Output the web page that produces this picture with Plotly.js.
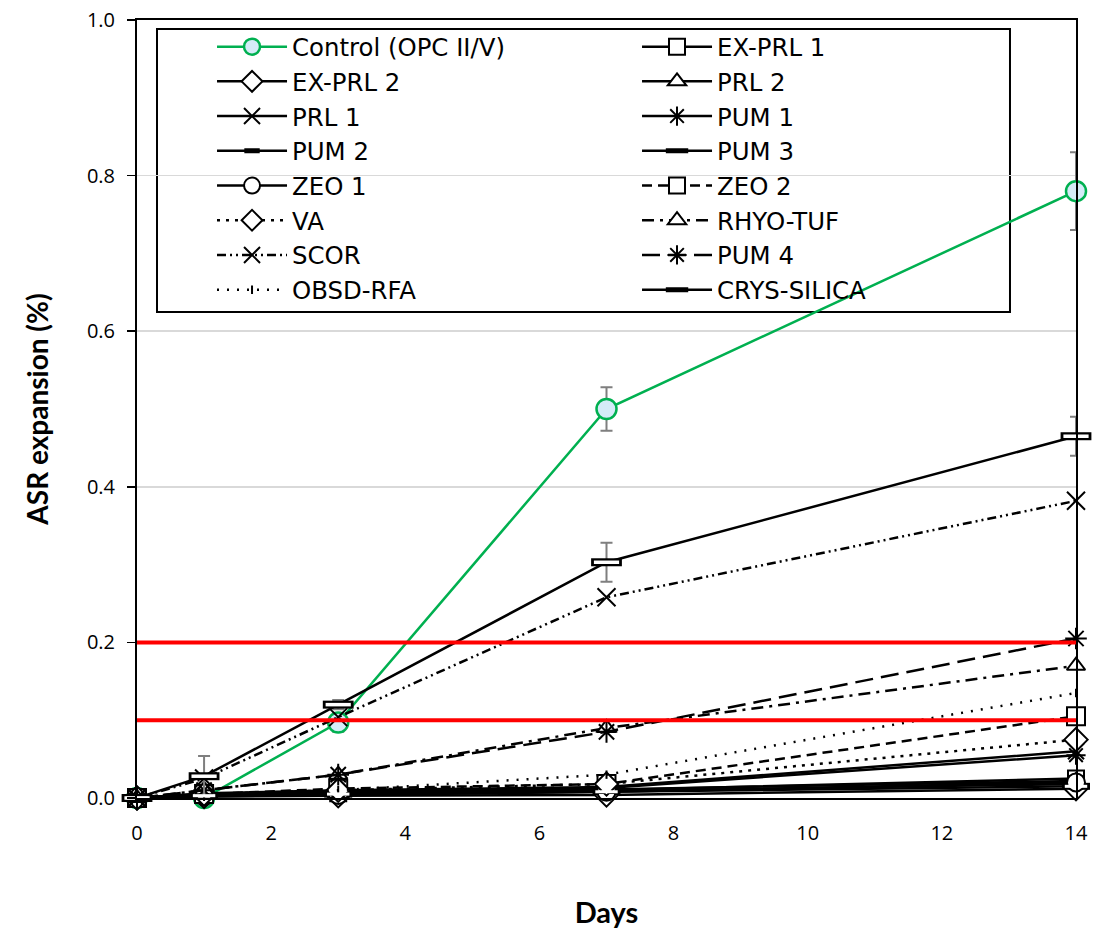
<!DOCTYPE html>
<html>
<head>
<meta charset="utf-8">
<script src="https://cdn.plot.ly/plotly-3.0.1.min.js"></script>
<style>html,body{margin:0;padding:0;background:#fff;}#chart{width:1093px;height:932px;}</style>
</head>
<body>
<div id="chart"></div>
<script>
// ---- data ----
const days = [0, 1, 3, 7, 14];
const xTicks = [0, 2, 4, 6, 8, 10, 12, 14];
const yTicks = [0, 0.2, 0.4, 0.6, 0.8, 1.0];
const yTickLabels = ["0.0", "0.2", "0.4", "0.6", "0.8", "1.0"];
const limits = [0.1, 0.2];

const seriesNames = ["Control (OPC II/V)", "EX-PRL 1", "EX-PRL 2", "PRL 2", "PRL 1", "PUM 1",
  "PUM 2", "PUM 3", "ZEO 1", "ZEO 2", "VA", "RHYO-TUF", "SCOR", "PUM 4", "OBSD-RFA", "CRYS-SILICA"];

const control    = [0, 0, 0.097, 0.50, 0.78];
const exPrl1     = [0, 0.004, 0.006, 0.010, 0.025];
const exPrl2     = [0, 0.002, 0.003, 0.004, 0.012];
const prl2       = [0, 0.004, 0.007, 0.011, 0.022];
const prl1       = [0, 0.006, 0.010, 0.014, 0.060];
const pum1       = [0, 0.005, 0.009, 0.013, 0.055];
const pum2       = [0, 0.003, 0.006, 0.009, 0.018];
const pum3       = [0, 0.003, 0.005, 0.008, 0.015];
const zeo1       = [0, 0.002, 0.004, 0.008, 0.020];
const zeo2       = [0, 0.005, 0.012, 0.018, 0.105];
const va         = [0, 0.005, 0.010, 0.018, 0.075];
const rhyoTuf    = [0, 0.010, 0.030, 0.090, 0.170];
const scor       = [0, 0.025, 0.104, 0.258, 0.382];
const pum4       = [0, 0.010, 0.030, 0.085, 0.205];
const obsdRfa    = [0, 0.004, 0.010, 0.030, 0.135];
const crysSilica = [0, 0.028, 0.120, 0.303, 0.465];

const controlErr = [0, 0, 0.012, 0.028, 0.05];
const crysErr    = [0, 0.026, 0.006, 0.025, 0.025];

// ---- styles ----
const BLACK = "#000000";
function tr(name, y, dash, symbol, size, opts) {
  opts = opts || {};
  const lc = opts.lineColor || BLACK;
  const isOpen = symbol.indexOf("-open") >= 0;
  const t = {
    type: "scatter", mode: "lines+markers", name: name, x: days, y: y,
    cliponaxis: false,
    line: {color: lc, width: opts.lineWidth || 2.5, dash: dash},
    marker: {symbol: symbol, size: size, color: isOpen ? lc : (opts.fill || "#ffffff"),
      line: {color: lc, width: opts.mlw || 2}}
  };
  if (opts.err) {
    t.error_y = {type: "data", array: opts.err, visible: true, color: "#7f7f7f", thickness: 2, width: 6};
  }
  return t;
}
// white inner part of the flat rectangle markers
function rectInner(y, size, w) {
  return {
    type: "scatter", mode: "markers", x: days, y: y, showlegend: false, cliponaxis: false,
    hoverinfo: "skip",
    marker: {symbol: "line-ew-open", size: size, color: "#ffffff", line: {color: "#ffffff", width: w}}
  };
}

const data = [
  tr(seriesNames[0], control, "solid", "circle", 20, {lineColor: "#00b050", fill: "#d5ebf8", mlw: 2.5, err: controlErr}),
  tr(seriesNames[1], exPrl1, "solid", "square", 16),
  tr(seriesNames[2], exPrl2, "solid", "diamond", 18),
  tr(seriesNames[3], prl2, "solid", "triangle-up", 16),
  tr(seriesNames[4], prl1, "solid", "x-thin-open", 16),
  tr(seriesNames[5], pum1, "solid", "asterisk-open", 16),
  tr(seriesNames[6], pum2, "solid", "line-ew-open", 11, {mlw: 5}),
  tr(seriesNames[7], pum3, "solid", "line-ew-open", 20, {mlw: 7}),
  tr(seriesNames[8], zeo1, "solid", "circle", 18),
  tr(seriesNames[9], zeo2, "10px,6px", "square", 18),
  tr(seriesNames[10], va, "3px,6px", "diamond", 18),
  tr(seriesNames[11], rhyoTuf, "12px,6px,3px,6px", "triangle-up", 16),
  tr(seriesNames[12], scor, "9px,4px,2px,4px,2px,4px", "x-thin-open", 18),
  tr(seriesNames[13], pum4, "18px,8px", "asterisk-open", 18),
  tr(seriesNames[14], obsdRfa, "2px,8px", "line-ns-open", 6),
  tr(seriesNames[15], crysSilica, "solid", "line-ew-open", 22, {mlw: 8, err: crysErr}),
  rectInner(pum2, 7, 1.5),
  rectInner(pum3, 16, 3),
  rectInner(crysSilica, 18, 3.5)
];

const FONT = "'Open Sans', Lato, sans-serif";
const LFONT = "'DejaVu Sans', 'Open Sans', sans-serif";
const TFONT = "Lato, 'Open Sans', sans-serif";

// legend frame position (paper coords)
const legendBox = {x0: 0.0213, x1: 0.9297, y0: 0.6247, y1: 0.9884};

const layout = {
  width: 1093, height: 932,
  margin: {l: 137, r: 17, t: 20, b: 134},
  paper_bgcolor: "#ffffff", plot_bgcolor: "#ffffff",
  font: {family: FONT, color: "#000000"},
  showlegend: true,
  legend: {
    orientation: "h", x: 0.0799, xanchor: "left", y: 0.9945, yanchor: "top",
    bgcolor: "rgba(0,0,0,0)", borderwidth: 0,
    font: {family: LFONT, size: 24.4, color: "#000000"},
    itemwidth: 70, entrywidthmode: "pixels", entrywidth: 340,
    traceorder: "normal"
  },
  xaxis: {
    range: [0, 14], tickvals: xTicks, ticktext: xTicks.map(String),
    showgrid: false, zeroline: false,
    showline: true, linecolor: "#000000", linewidth: 2, mirror: true,
    ticks: "", ticklabelstandoff: 16,
    tickfont: {family: FONT, size: 20, color: "#000000"},
    title: {text: "<b>Days</b>", font: {family: TFONT, size: 29, color: "#000000"}, standoff: 58}
  },
  yaxis: {
    range: [0, 1.0], tickvals: yTicks, ticktext: yTickLabels,
    showgrid: true, gridcolor: "#d9d9d9", gridwidth: 1.5, zeroline: false,
    showline: true, linecolor: "#000000", linewidth: 2, mirror: true,
    ticks: "outside", ticklen: 8, tickcolor: "#000000", tickwidth: 1.5,
    ticklabelstandoff: 8,
    tickfont: {family: FONT, size: 20, color: "#000000"},
    title: {text: "<b>ASR expansion (%)</b>", font: {family: TFONT, size: 28, color: "#000000"}, standoff: 30}
  },
  shapes: limits.map(v => ({
    type: "line", xref: "x", yref: "y", x0: 0, x1: 14, y0: v, y1: v,
    line: {color: "#ff0000", width: 4}, layer: "above"
  })).concat([{
    type: "rect", xref: "paper", yref: "paper",
    x0: legendBox.x0, x1: legendBox.x1, y0: legendBox.y0, y1: legendBox.y1,
    line: {color: "#000000", width: 2}, fillcolor: "rgba(0,0,0,0)", layer: "below"
  }])
};

Plotly.newPlot("chart", data, layout, {displayModeBar: false, staticPlot: true});
</script>
</body>
</html>
